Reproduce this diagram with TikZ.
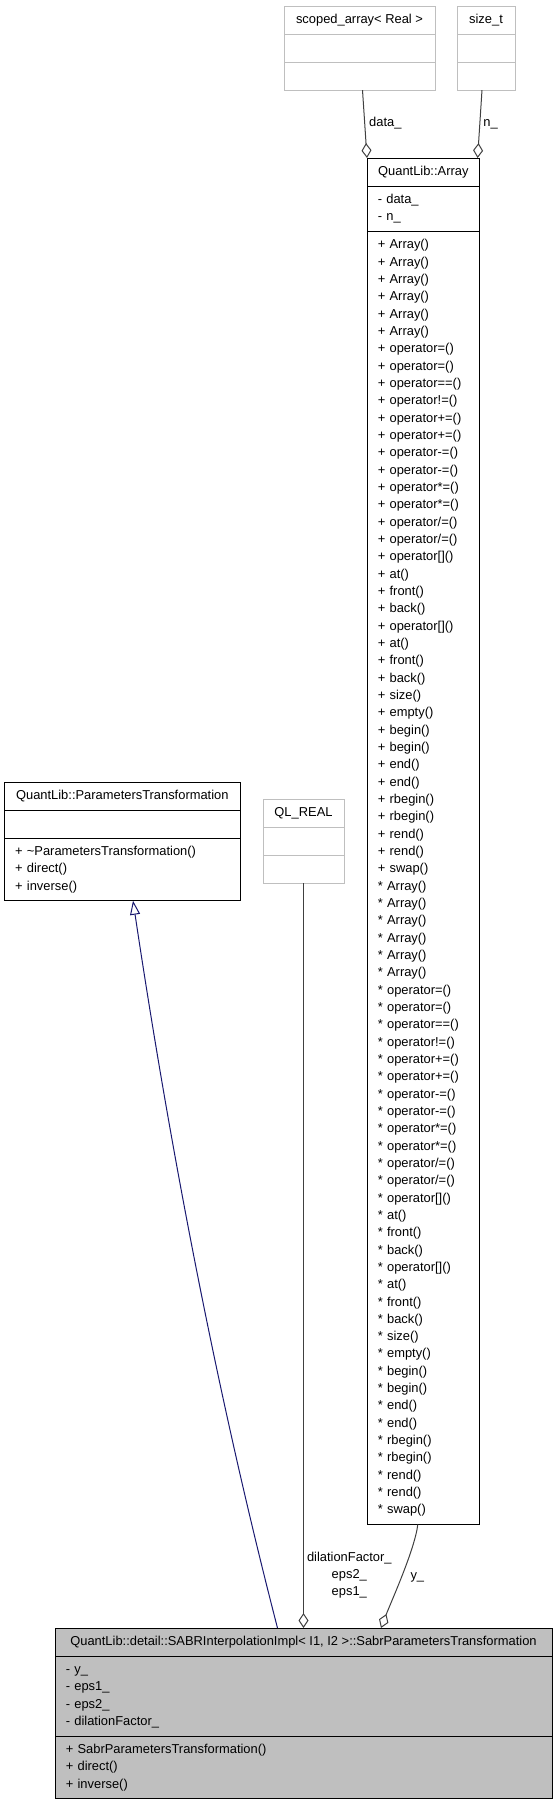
\documentclass[tikz,border=0pt]{standalone}
\usepackage{fontspec}
\setmainfont{Liberation Sans}
\usetikzlibrary{positioning,arrows.meta}

\definecolor{grey75}{HTML}{BFBFBF}
\definecolor{grey25}{HTML}{404040}
\definecolor{midblue}{HTML}{191970}

\newcommand\umlfont{\fontsize{12.9}{17.33}\selectfont}
\newcommand\arraymembers[1]{%
\strut#1 Array()\\\strut#1 Array()\\\strut#1 Array()\\%
\strut#1 Array()\\\strut#1 Array()\\\strut#1 Array()\\%
\strut#1 operator=()\\\strut#1 operator=()\\\strut#1 operator==()\\%
\strut#1 operator!=()\\\strut#1 operator+=()\\\strut#1 operator+=()\\%
\strut#1 operator-=()\\\strut#1 operator-=()\\\strut#1 operator*=()\\%
\strut#1 operator*=()\\\strut#1 operator/=()\\\strut#1 operator/=()\\%
\strut#1 operator[]()\\\strut#1 at()\\\strut#1 front()\\\strut#1 back()\\%
\strut#1 operator[]()\\\strut#1 at()\\\strut#1 front()\\\strut#1 back()\\%
\strut#1 size()\\\strut#1 empty()\\\strut#1 begin()\\\strut#1 begin()\\%
\strut#1 end()\\\strut#1 end()\\\strut#1 rbegin()\\\strut#1 rbegin()\\%
\strut#1 rend()\\\strut#1 rend()\\\strut#1 swap()}

\tikzstyle{umlpart} = [rectangle, draw=black, line width=1pt, outer sep=0pt, inner xsep=10.8pt, inner ysep=5.35pt, font=\umlfont, align=left]
\tikzstyle{umlhead} = [umlpart, minimum height=28pt, align=center]
\tikzstyle{umlblank} = [umlpart, minimum height=28pt]
\tikzstyle{ghostbox} = [draw=grey75]
\tikzstyle{focusbox} = [fill=grey75]
\tikzstyle{usesedge} = [draw=grey25, line width=1pt, -{Diamond[open, length=15pt, width=10pt]}]
\tikzstyle{isaedge} = [draw=midblue, line width=1pt, -{Triangle[open, length=14pt, width=10pt]}]
\tikzstyle{edgelbl} = [font=\umlfont, inner sep=2pt, align=center]

\begin{document}
\begin{tikzpicture}[x=1pt, y={(0pt,-1pt)}]
    \useasboundingbox (0,0) rectangle (557,1805);

    % helper classes
    \node (saH) [umlhead, ghostbox, minimum width=151pt, anchor=north west] at (284,6) {\strut scoped\_array< Real >};
    \node (saA) [umlblank, ghostbox, minimum width=151pt, below=0pt of saH] {};
    \node (saM) [umlblank, ghostbox, minimum width=151pt, below=0pt of saA] {};

    \node (stH) [umlhead, ghostbox, minimum width=58pt, anchor=north west] at (457,6) {\strut size\_t};
    \node (stA) [umlblank, ghostbox, minimum width=58pt, below=0pt of stH] {};
    \node (stM) [umlblank, ghostbox, minimum width=58pt, below=0pt of stA] {};

    \node (qlH) [umlhead, ghostbox, minimum width=81pt, anchor=north west] at (263,799) {\strut QL\_REAL};
    \node (qlA) [umlblank, ghostbox, minimum width=81pt, below=0pt of qlH] {};
    \node (qlM) [umlblank, ghostbox, minimum width=81pt, below=0pt of qlA] {};

    % QuantLib::Array
    \node (arrH) [umlhead, minimum width=112.6pt, anchor=north west] at (367,158) {\strut QuantLib::Array};
    \node (arrA) [umlpart, text width=91pt, below=0pt of arrH] {\strut- data\_\\\strut- n\_};
    \node (arrM) [umlpart, text width=91pt, below=0pt of arrA] {\arraymembers{+}\\\arraymembers{*}};

    % QuantLib::ParametersTransformation
    \node (ptH) [umlhead, minimum width=236pt, anchor=north west] at (4.3,782) {\strut QuantLib::ParametersTransformation};
    \node (ptA) [umlblank, minimum width=236pt, below=0pt of ptH] {};
    \node (ptM) [umlpart, text width=214.4pt, below=0pt of ptA] {\strut+ \textasciitilde ParametersTransformation()\\\strut+ direct()\\\strut+ inverse()};

    % the class itself
    \node (sabrH) [umlhead, focusbox, minimum width=497pt, anchor=north west] at (55,1628) {\strut QuantLib::detail::SABRInterpolationImpl< I1, I2 >::SabrParametersTransformation};
    \node (sabrA) [umlpart, focusbox, text width=475.4pt, below=0pt of sabrH] {\strut- y\_\\\strut- eps1\_\\\strut- eps2\_\\\strut- dilationFactor\_};
    \node (sabrM) [umlpart, focusbox, text width=475.4pt, below=0pt of sabrA] {\strut+ SabrParametersTransformation()\\\strut+ direct()\\\strut+ inverse()};

    \draw [usesedge] ([xshift=3pt]saM.south) -- node[edgelbl, right, pos=0.485, xshift=2pt] (lData) {\strut data\_} (arrH.north west);
    \draw [usesedge] ([xshift=-4pt]stM.south) -- node[edgelbl, right, pos=0.485, xshift=1pt] (lN) {\strut n\_} ([xshift=-2pt]arrH.north east);
    \draw [usesedge] (qlM.south) -- node[edgelbl, right, pos=0.929, xshift=1pt] (lEps) {\strut dilationFactor\_\\\strut eps2\_\\\strut eps1\_} (sabrH.north);
    \draw [usesedge] ([xshift=-5.5pt]arrM.south) .. controls +(-3,25) and +(10,-26) .. node[edgelbl, right, pos=0.5, xshift=6pt] (lY) {\strut y\_} ([xshift=326pt]sabrH.north west);
    \draw [isaedge] ([xshift=222.5pt]sabrH.north west) .. controls +(-62,-240) and +(36,240) .. ([xshift=128.7pt]ptM.south west);
\end{tikzpicture}
\end{document}
